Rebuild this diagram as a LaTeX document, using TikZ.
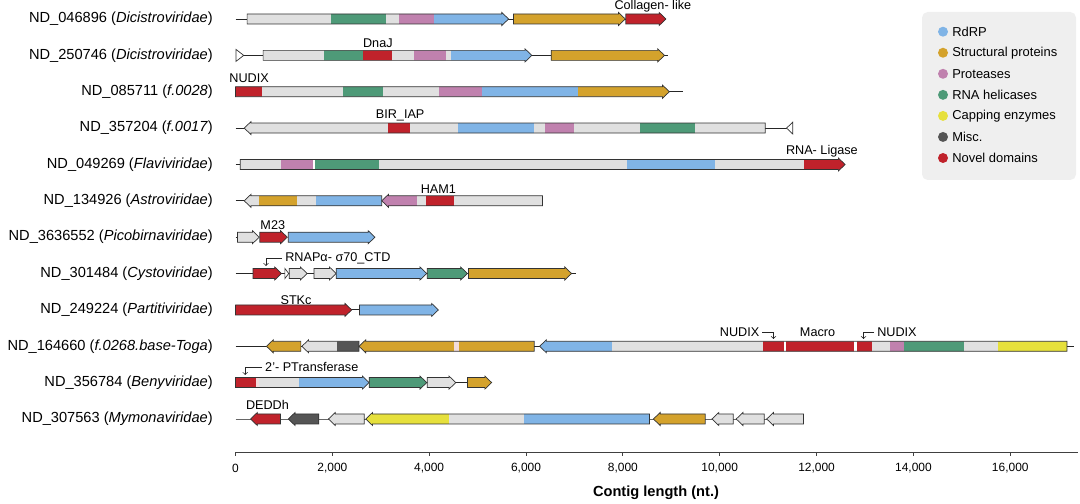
\documentclass[tikz,border=0pt]{standalone}
\usepackage{fontspec}
\setmainfont{Liberation Sans}
\usepackage{tikz}

\definecolor{rdrp}{HTML}{80B4E6}
\definecolor{struc}{HTML}{D4A22C}
\definecolor{prot}{HTML}{C081AE}
\definecolor{heli}{HTML}{4E9A78}
\definecolor{capp}{HTML}{E6E03C}
\definecolor{misc}{HTML}{555555}
\definecolor{novel}{HTML}{C0222B}
\definecolor{unk}{HTML}{E0E0E0}
\definecolor{pale}{HTML}{F2DCDC}
\definecolor{legbg}{HTML}{EFEFEF}

\tikzset{
  bb/.style={draw=black!85,line width=0.6pt},
  genebox/.style={draw=black!80,line width=0.5pt},
  tri/.style={draw=black!80,fill=white,line width=0.5pt},
  axisline/.style={draw=black!75,line width=0.7pt},
  callout/.style={->,draw=black!85,line width=0.5pt},
  rowlab/.style={font=\fontsize{10.4}{12}\selectfont,anchor=east,inner sep=0pt},
  note/.style={font=\fontsize{9}{11}\selectfont,inner sep=2pt},
  ticklab/.style={font=\fontsize{8.5}{10}\selectfont,inner sep=0pt},
  legtext/.style={font=\fontsize{9.2}{11}\selectfont,anchor=west,inner sep=0pt}
}

% gene pointing right: row y, start, tip, segments
\newcommand{\rgene}[4]{%
  \begin{scope}
    \clip (#2,#1-5) -- (#3-0.14,#1-5) -- (#3-0.14,#1-6.5) -- (#3,#1)
      -- (#3-0.14,#1+6.5) -- (#3-0.14,#1+5) -- (#2,#1+5) -- cycle;
    \foreach \a/\b/\c in {#4} \fill[\c] (\a,#1-7) rectangle (\b,#1+7);
  \end{scope}
  \draw[genebox] (#2,#1-5) -- (#3-0.14,#1-5) -- (#3-0.14,#1-6.5) -- (#3,#1)
      -- (#3-0.14,#1+6.5) -- (#3-0.14,#1+5) -- (#2,#1+5) -- cycle;
}
% gene pointing left: row y, tip, end, segments
\newcommand{\lgene}[4]{%
  \begin{scope}
    \clip (#2,#1) -- (#2+0.14,#1-6.5) -- (#2+0.14,#1-5) -- (#3,#1-5)
      -- (#3,#1+5) -- (#2+0.14,#1+5) -- (#2+0.14,#1+6.5) -- cycle;
    \foreach \a/\b/\c in {#4} \fill[\c] (\a,#1-7) rectangle (\b,#1+7);
  \end{scope}
  \draw[genebox] (#2,#1) -- (#2+0.14,#1-6.5) -- (#2+0.14,#1-5) -- (#3,#1-5)
      -- (#3,#1+5) -- (#2+0.14,#1+5) -- (#2+0.14,#1+6.5) -- cycle;
}

\begin{document}
\begin{tikzpicture}[x=0.025cm,y=-0.025cm]
\useasboundingbox (0,0) rectangle (1080,504);

\node[rowlab] (n1) at (213,19) {ND\_046896 (\textit{Dicistroviridae})};
\node[rowlab] (n2) at (213,55.4) {ND\_250746 (\textit{Dicistroviridae})};
\node[rowlab] (n3) at (213,91.7) {ND\_085711 (\textit{f.0028})};
\node[rowlab] (n4) at (213,128.1) {ND\_357204 (\textit{f.0017})};
\node[rowlab] (n5) at (213,164.5) {ND\_049269 (\textit{Flaviviridae})};
\node[rowlab] (n6) at (213,200.8) {ND\_134926 (\textit{Astroviridae})};
\node[rowlab] (n7) at (213,237.2) {ND\_3636552 (\textit{Picobirnaviridae})};
\node[rowlab] (n8) at (213,273.5) {ND\_301484 (\textit{Cystoviridae})};
\node[rowlab] (n9) at (213,309.9) {ND\_249224 (\textit{Partitiviridae})};
\node[rowlab] (n10) at (213,346.3) {ND\_164660 (\textit{f.0268.base-Toga})};
\node[rowlab] (n11) at (213,382.6) {ND\_356784 (\textit{Benyviridae})};
\node[rowlab] (n12) at (213,419) {ND\_307563 (\textit{Mymonaviridae})};

\begin{scope}[shift={(235.5,0)},x=1.21025cm]
  % row 1
  \draw[bb] (0,19) -- (8.89,19);
  \rgene{19}{0.24}{5.64}{0.24/1.97/unk,1.97/3.11/heli,3.11/3.38/unk,3.38/4.10/prot,4.10/5.64/rdrp}
  \rgene{19}{5.74}{8.05}{5.74/8.05/struc}
  \rgene{19}{8.06}{8.89}{8.06/8.89/novel}
  \node[note] (coll) at (8.62,6) {Collagen- like};
  % row 2
  \draw[bb] (0.01,55.4) -- (8.94,55.4);
  \draw[tri] (0.01,49.4) -- (0.17,55.4) -- (0.01,61.4) -- cycle;
  \rgene{55.4}{0.57}{6.12}{0.57/1.83/unk,1.83/2.64/heli,2.64/3.24/novel,3.24/3.69/unk,3.69/4.34/prot,4.34/4.45/unk,4.45/6.12/rdrp}
  \rgene{55.4}{6.52}{8.86}{6.52/8.86/struc}
  \node[note] (dnaj) at (2.94,43) {DnaJ};
  % row 3
  \draw[bb] (0,91.7) -- (9.24,91.7);
  \rgene{91.7}{0}{8.96}{0/0.55/novel,0.55/2.21/unk,2.21/3.05/heli,3.05/4.20/unk,4.20/5.09/prot,5.09/7.08/rdrp,7.08/8.96/struc}
  \node[note] (nud0) at (0.28,78) {NUDIX};
  % row 4
  \draw[bb] (0,128.1) -- (11.38,128.1);
  \lgene{128.1}{0.18}{10.94}{0.18/3.15/unk,3.15/3.60/novel,3.60/4.60/unk,4.60/6.17/rdrp,6.17/6.39/unk,6.39/7.00/prot,7.00/8.36/unk,8.36/9.49/heli,9.49/10.94/unk}
  \draw[tri] (11.51,122.1) -- (11.38,128.1) -- (11.51,134.1) -- cycle;
  \node[note] (bir) at (3.40,115) {BIR\_IAP};
  % row 5
  \draw[bb] (0,164.5) -- (0.10,164.5);
  \rgene{164.5}{0.10}{12.59}{0.10/0.94/unk,0.94/1.61/prot,1.61/1.645/white,1.645/2.96/heli,2.96/8.09/unk,8.09/9.90/rdrp,9.90/11.75/unk,11.75/12.59/novel}
  \node[note] (lig) at (12.11,151) {RNA- Ligase};
  % row 6
  \draw[bb] (0,200.8) -- (0.18,200.8);
  \lgene{200.8}{0.18}{3.02}{0.18/0.49/unk,0.49/1.26/struc,1.26/1.66/unk,1.66/3.02/rdrp}
  \lgene{200.8}{3.02}{6.34}{3.02/3.74/prot,3.74/3.93/unk,3.93/4.51/novel,4.51/6.34/unk}
  \node[note] (ham) at (4.19,189) {HAM1};
  % row 7
  \draw[bb] (0,237.2) -- (0.05,237.2);
  \rgene{237.2}{0.04}{0.49}{0.04/0.49/unk}
  \rgene{237.2}{0.50}{1.07}{0.50/1.07/novel}
  \rgene{237.2}{1.09}{2.88}{1.09/2.88/rdrp}
  \node[note] (m23) at (0.77,225) {M23};
  % row 8
  \draw[bb] (0,273.5) -- (7.03,273.5);
  \rgene{273.5}{0.36}{0.95}{0.36/0.95/novel}
  \draw[tri] (1.02,268.5) -- (1.10,273.5) -- (1.02,278.5) -- cycle;
  \rgene{273.5}{1.11}{1.48}{1.11/1.48/unk}
  \rgene{273.5}{1.62}{2.08}{1.62/2.08/unk}
  \rgene{273.5}{2.08}{3.95}{2.08/3.95/rdrp}
  \rgene{273.5}{3.96}{4.79}{3.96/4.79/heli}
  \rgene{273.5}{4.81}{6.94}{4.81/6.94/struc}
  \node[note,anchor=west] (ctd) at (0.965,258) {RNAPα- σ70\_CTD};
  \coordinate (c8) at (0.63,266);
  \draw[callout] (ctd.west) -| (c8);
  % row 9
  \draw[bb] (0,309.9) -- (2.56,309.9);
  \rgene{309.9}{0}{2.40}{0/2.40/novel}
  \rgene{309.9}{2.56}{4.19}{2.56/4.19/rdrp}
  \node[note] (stk) at (1.25,300) {STKc};
  % row 10
  \draw[bb] (0,346.3) -- (17.31,346.3);
  \lgene{346.3}{0.64}{1.35}{0.64/1.35/struc}
  \lgene{346.3}{1.37}{2.55}{1.37/2.10/unk,2.10/2.55/misc}
  \lgene{346.3}{2.55}{6.17}{2.55/4.51/struc,4.51/4.61/pale,4.61/6.17/struc}
  \lgene{346.3}{6.28}{17.17}{6.28/7.77/rdrp,7.77/10.90/unk,10.90/11.32/novel,11.32/11.37/white,11.37/12.78/novel,12.78/12.83/white,12.83/13.14/novel,13.14/13.51/unk,13.51/13.81/prot,13.81/15.05/heli,15.05/15.74/unk,15.74/17.17/capp}
  \node[note] (nudl) at (10.41,332) {NUDIX};
  \node[note] (mac) at (12.02,332) {Macro};
  \node[note] (nudr) at (13.66,332) {NUDIX};
  \coordinate (c10a) at (11.11,339);
  \coordinate (c10b) at (12.97,339);
  \draw[callout] (nudl.east) -| (c10a);
  \draw[callout] (nudr.west) -| (c10b);
  % row 11
  \draw[bb] (0,382.6) -- (5.29,382.6);
  \rgene{382.6}{0}{2.76}{0/0.42/novel,0.42/0.48/pale,0.48/1.31/unk,1.31/2.76/rdrp}
  \rgene{382.6}{2.76}{3.95}{2.76/3.95/heli}
  \rgene{382.6}{3.96}{4.55}{3.96/4.55/unk}
  \rgene{382.6}{4.79}{5.29}{4.79/5.29/struc}
  \node[note,anchor=west] (ptr) at (0.55,367) {2'- PTransferase};
  \coordinate (c11) at (0.20,375);
  \draw[callout] (ptr.west) -| (c11);
  % row 12
  \draw[bb,draw=black!60] (0,419) -- (11.73,419);
  \lgene{419}{0.31}{0.93}{0.31/0.93/novel}
  \lgene{419}{1.09}{1.72}{1.09/1.72/misc}
  \lgene{419}{1.92}{2.66}{1.92/2.66/unk}
  \lgene{419}{2.69}{8.55}{2.69/4.41/capp,4.41/5.96/unk,5.96/8.55/rdrp}
  \lgene{419}{8.63}{9.70}{8.63/9.70/struc}
  \lgene{419}{9.84}{10.28}{9.84/10.28/unk}
  \lgene{419}{10.34}{10.92}{10.34/10.92/unk}
  \lgene{419}{10.97}{11.73}{10.97/11.73/unk}
  \node[note] (dedd) at (0.66,405) {DEDDh};
  % axis
  \draw[axisline] (0,452) -- (17.40,452);
  \foreach \k/\t in {0/0,2/{2,000},4/{4,000},6/{6,000},8/{8,000},10/{10,000},12/{12,000},14/{14,000},16/{16,000}} {
    \draw[axisline] (\k,452) -- (\k,456);
    \node[ticklab] (t\k) at (\k,468) {\t};
  }
\end{scope}
\node[font=\fontsize{10.4}{12}\selectfont\bfseries,inner sep=0pt] (xlab) at (656,493) {Contig length (nt.)};

% legend
\fill[legbg,rounded corners=4pt] (922,12) rectangle (1076,180);
\foreach \c/\t [count=\i] in {rdrp/RdRP,struc/Structural proteins,prot/Proteases,heli/RNA helicases,capp/Capping enzymes,misc/Misc.,novel/Novel domains} {
  \fill[\c] (943,{10.65+21.05*\i}) circle (5);
  \node[legtext] (g\i) at (952,{10.65+21.05*\i}) {\t};
}
\end{tikzpicture}
\end{document}
